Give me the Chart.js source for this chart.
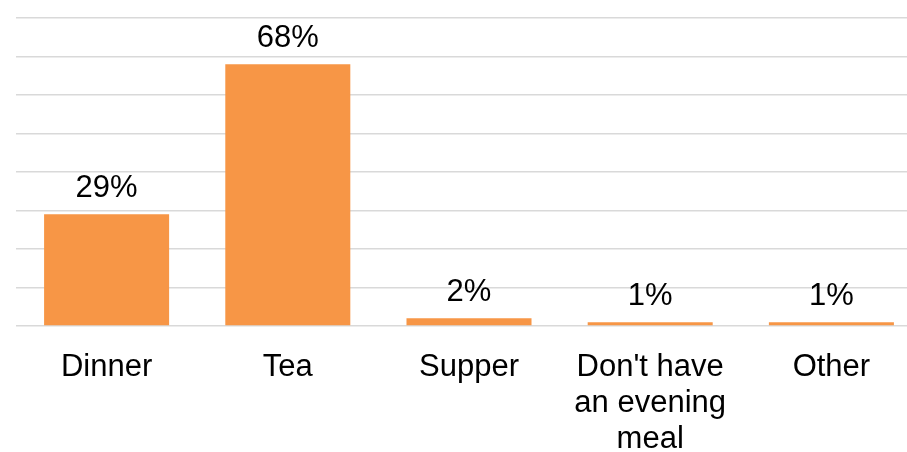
<!DOCTYPE html>
<html>
<head>
<meta charset="utf-8">
<script src="https://cdn.jsdelivr.net/npm/chart.js@4"></script>
<style>
  html, body { margin: 0; padding: 0; background: #fff; overflow: hidden; }
  #wrap { position: relative; width: 922px; height: 452px; }
</style>
</head>
<body>
<div id="wrap"><canvas id="grafico"></canvas></div>
<script>
// Refeição da noite - percentagem de respostas
const categorias = ['Dinner', 'Tea', 'Supper', ['Don\'t have', 'an evening', 'meal'], 'Other'];
const percentagens = [29, 68, 2, 1, 1];
const rotulos = ['29%', '68%', '2%', '1%', '1%'];

const fonte = { family: 'Liberation Sans, Arial, sans-serif', size: 31, lineHeight: 1.15 };

// Escreve o valor por cima de cada barra
const rotulosBarras = {
  id: 'rotulosBarras',
  afterDatasetsDraw(chart) {
    const ctx = chart.ctx;
    const meta = chart.getDatasetMeta(0);
    ctx.save();
    ctx.font = `${fonte.size}px ${fonte.family}`;
    ctx.fillStyle = '#000';
    ctx.textAlign = 'center';
    ctx.textBaseline = 'alphabetic';
    meta.data.forEach((barra, i) => {
      ctx.fillText(rotulos[i], barra.x, barra.y - 17.5);
    });
    ctx.restore();
  }
};

new Chart(document.getElementById('grafico'), {
  type: 'bar',
  data: {
    labels: categorias,
    datasets: [{
      data: percentagens,
      backgroundColor: '#F79646',
      borderWidth: 0,
      barPercentage: 0.69,
      categoryPercentage: 1
    }]
  },
  options: {
    responsive: true,
    maintainAspectRatio: false,
    animation: false,
    devicePixelRatio: 1,
    layout: { padding: { left: 16, right: 0, top: 18, bottom: 0 } },
    plugins: {
      legend: { display: false },
      tooltip: { enabled: false }
    },
    scales: {
      x: {
        grid: { display: false, drawTicks: false },
        border: { display: false },
        afterFit(scale) { scale.height = 126; },
        ticks: {
          color: '#000',
          font: fonte,
          padding: 24,
          maxRotation: 0,
          autoSkip: false
        }
      },
      y: {
        min: 0,
        max: 80,
        border: { display: false },
        grid: { color: '#d9d9d9', lineWidth: 1.5, drawTicks: false },
        ticks: { display: false, stepSize: 10 }
      }
    }
  },
  plugins: [rotulosBarras]
});
</script>
</body>
</html>
